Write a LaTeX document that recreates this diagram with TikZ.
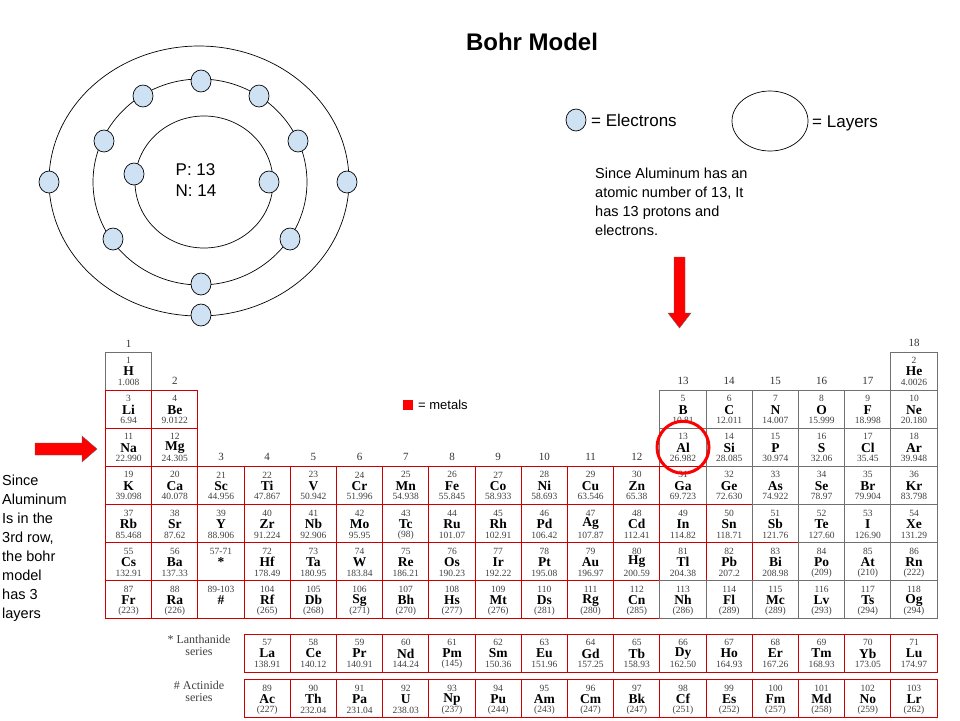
\documentclass[tikz,border=0pt]{standalone}
\usepackage{fontspec}
\setmainfont{Liberation Serif}
\newfontfamily\arial{Liberation Sans}
\usetikzlibrary{calc,shapes.geometric}
\definecolor{ebl}{HTML}{CFE2F3}
\definecolor{mred}{HTML}{CC0000}
\definecolor{cgray}{HTML}{707070}
\tikzset{
  elec/.style={draw,fill=ebl,ellipse,minimum width=20pt,minimum height=22pt,inner sep=0pt,line width=0.7pt},
  cellbox/.style={rectangle,minimum width=46.2pt,minimum height=38.1pt,inner sep=0pt,line width=1pt},
  num/.style={font=\fontsize{9.5}{10}\selectfont,text=black!75},
  sym/.style={font=\fontsize{13.5}{14}\selectfont\bfseries},
  grp/.style={font=\fontsize{11}{11}\selectfont,text=black!80},
  lbl/.style={font=\arial\fontsize{14.5}{19}\selectfont,align=left,anchor=north west,inner sep=0pt},
  redarrow/.style={fill=red,draw=black!60,line width=0.4pt}
}
\newcommand\putcell[6]{%
  \pgfmathsetmacro\cx{105.5+(#1-0.5)*46.2}%
  \node[cellbox,draw=#6] (e#3) at (\cx,#2+19.05) {};
  \node[num] at ($(e#3.center)+(0,-10.5)$) {#3};
  \node[sym] at ($(e#3.center)+(0,0.5)$) {#4};
  \node[num] at ($(e#3.center)+(0,11.5)$) {#5};
}
\newcommand\putrow[2]{%
  \foreach \c/\n/\s/\m/\k in {#2} {\putcell{\c}{#1}{\n}{\s}{\m}{\k}}%
}
\begin{document}
\begin{tikzpicture}[x=1pt,y=-1pt]
\useasboundingbox (0,0) rectangle (960,720);
\fill[white] (0,0) rectangle (960,720);
% title
\node[font=\arial\bfseries\fontsize{24}{24}\selectfont] (title) at (532,42) {Bohr Model};
% Bohr model
\draw[line width=0.7pt] (199,181) ellipse [x radius=150, y radius=135];
\draw[line width=0.7pt] (200,182) ellipse [x radius=107, y radius=103];
\draw[line width=0.7pt] (204,182) ellipse [x radius=69, y radius=66];
\node[font=\arial\fontsize{17}{21}\selectfont,align=left] (pn) at (196,180) {P: 13\\N: 14};
\foreach \p [count=\i] in {(134,174),(269,182),(201,81),(143,96),(259,96),(104,141),(298,141),(113,239),(290,239),(201,284),(49,182),(347,182),(201,315)}
  \node[elec] (el\i) at \p {};
% legend
\node[elec] (legel) at (576,120) {};
\node[font=\arial\fontsize{17}{17}\selectfont,anchor=west,inner sep=0pt] (legeltxt) at (591,120) {= Electrons};
\draw[line width=0.7pt] (770,121) ellipse [x radius=38, y radius=30];
\node[font=\arial\fontsize{17}{17}\selectfont,anchor=west,inner sep=0pt] (leglay) at (812,123) {= Layers};
\node[lbl] (para) at (595,168) {Since Aluminum has an\\atomic number of 13, It\\has 13 protons and\\electrons.};
\node[lbl] (side) at (2,475) {Since\\Aluminum\\Is in the\\3rd row,\\the bohr\\model\\has 3\\layers};
% arrows
\draw[redarrow] (674,257) -- (685,257) -- (685,313) -- (691,313) -- (679.5,328) -- (668,313) -- (674,313) -- cycle;
\draw[redarrow] (35,443) -- (82,443) -- (82,436) -- (97,449) -- (82,462) -- (82,455) -- (35,455) -- cycle;
% metals legend
\fill[red] (403,400) rectangle (413,410);
\node[font=\arial\fontsize{13}{13}\selectfont,anchor=west,inner sep=0pt] (metals) at (418,405) {= metals};
% group labels
\foreach \c/\y in {1/344,2/381,3/457,4/457,5/457,6/457,7/457,8/457,9/457,10/457,11/457,12/457,13/381,14/381,15/381,16/381,17/381,18/343}
  \node[grp] at ({105.5+(\c-0.5)*46.2},\y) {\c};
% table
\putrow{352}{1/1/H/1.008/cgray,18/2/He/4.0026/cgray}
\putrow{390.1}{1/3/Li/6.94/mred,2/4/Be/9.0122/mred,13/5/B/10.81/cgray,14/6/C/12.011/cgray,15/7/N/14.007/cgray,16/8/O/15.999/cgray,17/9/F/18.998/cgray,18/10/Ne/20.180/cgray}
\putrow{428.2}{1/11/Na/22.990/mred,2/12/Mg/24.305/mred,13/13/Al/26.982/cgray,14/14/Si/28.085/cgray,15/15/P/30.974/cgray,16/16/S/32.06/cgray,17/17/Cl/35.45/cgray,18/18/Ar/39.948/cgray}
\putrow{466.3}{1/19/K/39.098/mred,2/20/Ca/40.078/mred,3/21/Sc/44.956/mred,4/22/Ti/47.867/mred,5/23/V/50.942/mred,6/24/Cr/51.996/mred,7/25/Mn/54.938/mred,8/26/Fe/55.845/mred,9/27/Co/58.933/mred,10/28/Ni/58.693/mred,11/29/Cu/63.546/mred,12/30/Zn/65.38/mred,13/31/Ga/69.723/mred,14/32/Ge/72.630/cgray,15/33/As/74.922/cgray,16/34/Se/78.97/cgray,17/35/Br/79.904/cgray,18/36/Kr/83.798/cgray}
\putrow{504.4}{1/37/Rb/85.468/mred,2/38/Sr/87.62/mred,3/39/Y/88.906/mred,4/40/Zr/91.224/mred,5/41/Nb/92.906/mred,6/42/Mo/95.95/mred,7/43/Tc/(98)/mred,8/44/Ru/101.07/mred,9/45/Rh/102.91/mred,10/46/Pd/106.42/mred,11/47/Ag/107.87/mred,12/48/Cd/112.41/mred,13/49/In/114.82/mred,14/50/Sn/118.71/mred,15/51/Sb/121.76/cgray,16/52/Te/127.60/cgray,17/53/I/126.90/cgray,18/54/Xe/131.29/cgray}
\putrow{542.5}{1/55/Cs/132.91/mred,2/56/Ba/137.33/mred,3/57-71/*/{}/mred,4/72/Hf/178.49/mred,5/73/Ta/180.95/mred,6/74/W/183.84/mred,7/75/Re/186.21/mred,8/76/Os/190.23/mred,9/77/Ir/192.22/mred,10/78/Pt/195.08/mred,11/79/Au/196.97/mred,12/80/Hg/200.59/mred,13/81/Tl/204.38/mred,14/82/Pb/207.2/mred,15/83/Bi/208.98/mred,16/84/Po/(209)/cgray,17/85/At/(210)/cgray,18/86/Rn/(222)/cgray}
\putrow{580.6}{1/87/Fr/(223)/mred,2/88/Ra/(226)/mred,3/89-103/\#/{}/mred,4/104/Rf/(265)/mred,5/105/Db/(268)/mred,6/106/Sg/(271)/mred,7/107/Bh/(270)/mred,8/108/Hs/(277)/mred,9/109/Mt/(276)/mred,10/110/Ds/(281)/mred,11/111/Rg/(280)/mred,12/112/Cn/(285)/mred,13/113/Nh/(286)/cgray,14/114/Fl/(289)/cgray,15/115/Mc/(289)/cgray,16/116/Lv/(293)/cgray,17/117/Ts/(294)/cgray,18/118/Og/(294)/cgray}
\putrow{634}{4/57/La/138.91/mred,5/58/Ce/140.12/mred,6/59/Pr/140.91/mred,7/60/Nd/144.24/mred,8/61/Pm/(145)/mred,9/62/Sm/150.36/mred,10/63/Eu/151.96/mred,11/64/Gd/157.25/mred,12/65/Tb/158.93/mred,13/66/Dy/162.50/mred,14/67/Ho/164.93/mred,15/68/Er/167.26/mred,16/69/Tm/168.93/mred,17/70/Yb/173.05/mred,18/71/Lu/174.97/mred}
\putrow{679.5}{4/89/Ac/(227)/mred,5/90/Th/232.04/mred,6/91/Pa/231.04/mred,7/92/U/238.03/mred,8/93/Np/(237)/mred,9/94/Pu/(244)/mred,10/95/Am/(243)/mred,11/96/Cm/(247)/mred,12/97/Bk/(247)/mred,13/98/Cf/(251)/mred,14/99/Es/(252)/mred,15/100/Fm/(257)/mred,16/101/Md/(258)/mred,17/102/No/(259)/mred,18/103/Lr/(262)/mred}
\node[font=\fontsize{12}{12}\selectfont,align=center,text=black!75] (lan) at (199,645) {* Lanthanide\\series};
\node[font=\fontsize{12}{12}\selectfont,align=center,text=black!75] (act) at (199,691) {\# Actinide\\series};
% Al circle
\draw[red,line width=3pt] (e13.center) circle (26);
\end{tikzpicture}
\end{document}
